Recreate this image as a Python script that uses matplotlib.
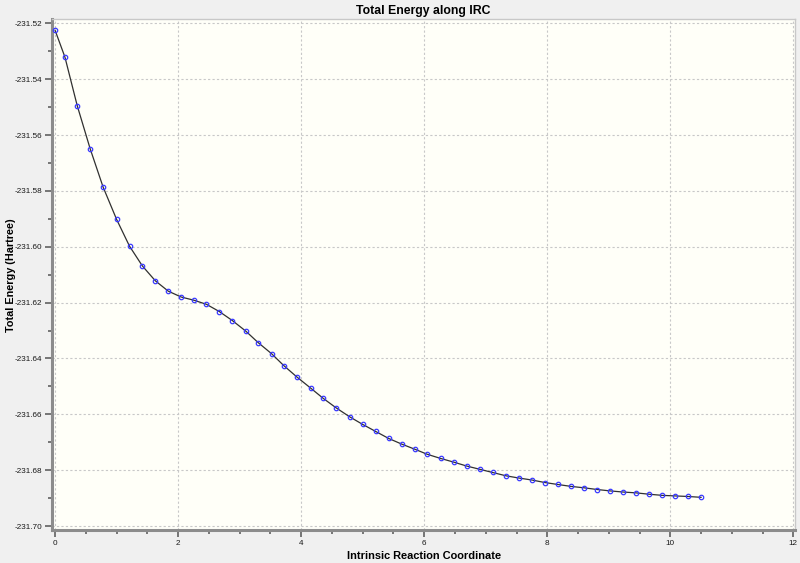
import matplotlib.pyplot as plt
from matplotlib.ticker import MultipleLocator

plt.rcParams['font.family'] = ['Liberation Sans', 'DejaVu Sans']

# IRC points
irc = [0.00, 0.16, 0.36, 0.57, 0.78, 1.00, 1.21, 1.42, 1.63, 1.84,
       2.05, 2.25, 2.46, 2.67, 2.88, 3.10, 3.30, 3.52, 3.72, 3.94,
       4.16, 4.36, 4.57, 4.79, 5.00, 5.21, 5.42, 5.64, 5.85, 6.05,
       6.27, 6.48, 6.69, 6.91, 7.11, 7.33, 7.54, 7.75, 7.96, 8.17,
       8.39, 8.60, 8.81, 9.02, 9.23, 9.44, 9.66, 9.87, 10.08, 10.29,
       10.50]
energy = [-231.5225, -231.5321, -231.5495, -231.5649, -231.5786,
          -231.5902, -231.5998, -231.6069, -231.6122, -231.6159,
          -231.6180, -231.6191, -231.6206, -231.6232, -231.6264,
          -231.6302, -231.6343, -231.6383, -231.6426, -231.6468,
          -231.6507, -231.6543, -231.6577, -231.6609, -231.6636,
          -231.6661, -231.6686, -231.6707, -231.6725, -231.6743,
          -231.6758, -231.6771, -231.6785, -231.6797, -231.6808,
          -231.6820, -231.6828, -231.6835, -231.6844, -231.6851,
          -231.6858, -231.6863, -231.6869, -231.6874, -231.6878,
          -231.6881, -231.6886, -231.6890, -231.6892, -231.6894,
          -231.6897]

fig = plt.figure(figsize=(8, 5.63), dpi=100, facecolor='#f0f0f0')
ax = fig.add_axes([0.065, 0.0586, 0.929, 0.907])
ax.set_facecolor('#fffff8')

ax.plot(irc, energy, color='#303030', lw=0.9, zorder=3)
ax.plot(irc, energy, ls='none', marker='o', ms=3.2, mfc='none',
        mec='#3a3aff', mew=0.9, zorder=4)

ax.set_xlim(-0.05, 12.03)
ax.set_ylim(-231.7014, -231.5186)
ax.xaxis.set_major_locator(MultipleLocator(2))
ax.xaxis.set_minor_locator(MultipleLocator(0.5))
ax.yaxis.set_major_locator(MultipleLocator(0.02))
ax.yaxis.set_minor_locator(MultipleLocator(0.01))
ax.yaxis.set_major_formatter(lambda v, p: f'{v:.2f}')

ax.grid(which='major', color='#c8c8c8', ls=(0, (2, 2)), lw=0.8)
ax.tick_params(which='both', direction='out', colors='#606060',
               labelcolor='#1a1a1a', labelsize=5.9, pad=2)
ax.tick_params(which='major', length=5, width=1.2)
ax.tick_params(which='minor', length=3, width=1.2)

for side in ['left', 'bottom']:
    ax.spines[side].set_color('#8c8c8c')
    ax.spines[side].set_linewidth(2.2)
for side in ['top', 'right']:
    ax.spines[side].set_color('#c8c8c8')
    ax.spines[side].set_linewidth(1)

ax.set_title('Total Energy along IRC', fontsize=8.8, fontweight='bold', pad=4)
ax.set_xlabel('Intrinsic Reaction Coordinate', fontsize=7.9,
              fontweight='bold', labelpad=3)
ax.set_ylabel('Total Energy (Hartree)', fontsize=7.8, fontweight='bold')
ax.yaxis.set_label_coords(-0.049, 0.5)

fig.savefig('out.png', dpi=100, facecolor=fig.get_facecolor())
